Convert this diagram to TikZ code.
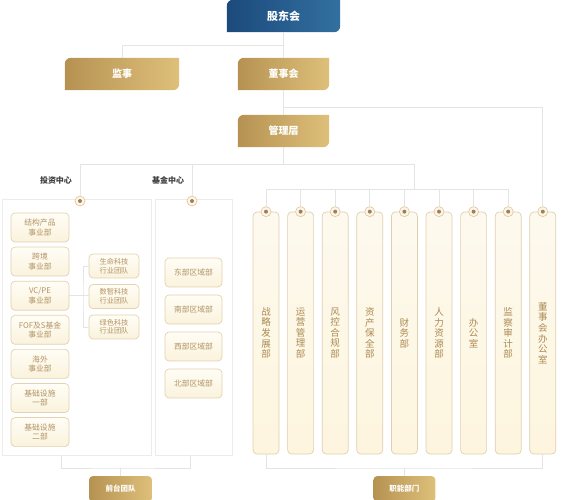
\documentclass[tikz,border=0pt]{standalone}
\usepackage{fontspec}
\setmainfont{Noto Sans CJK SC}
\usetikzlibrary{calc,backgrounds}
\definecolor{linegray}{RGB}{228,228,228}
\definecolor{panelgray}{RGB}{236,236,236}
\definecolor{goldL}{RGB}{182,146,82}
\definecolor{goldR}{RGB}{222,192,122}
\definecolor{blueL}{RGB}{28,74,124}
\definecolor{blueR}{RGB}{50,112,160}
\definecolor{boxline}{RGB}{226,210,176}
\definecolor{boxtop}{RGB}{255,253,246}
\definecolor{boxbot}{RGB}{250,242,220}
\definecolor{boxtext}{RGB}{178,148,100}
\definecolor{deptline}{RGB}{224,208,176}
\definecolor{depttop}{RGB}{253,249,238}
\definecolor{deptbot}{RGB}{253,245,222}
\definecolor{depttext}{RGB}{172,138,84}
\definecolor{hubring}{RGB}{226,202,162}
\definecolor{hubfill}{RGB}{252,246,234}
\definecolor{hubdot}{RGB}{160,128,88}
\definecolor{labelgray}{RGB}{60,60,60}
\tikzstyle{topbox}=[minimum height=32pt,inner sep=0pt,text=white,font=\fontsize{10}{12}\selectfont\bfseries]
\tikzstyle{footbox}=[rounded corners=4pt,left color=goldL,right color=goldR,minimum height=26pt,inner sep=0pt,text=white,font=\fontsize{7.5}{9}\selectfont\bfseries]
\tikzstyle{unitbox}=[draw=boxline,line width=0.7pt,rounded corners=4pt,top color=boxtop,bottom color=boxbot,minimum width=58pt,minimum height=29pt,inner sep=0pt,align=center,text=boxtext,font=\fontsize{7.8}{9.5}\selectfont]
\tikzstyle{teambox}=[unitbox,minimum width=50pt,minimum height=24pt,font=\fontsize{7.2}{8.5}\selectfont]
\tikzstyle{deptbox}=[draw=deptline,line width=0.7pt,rounded corners=4pt,top color=depttop,bottom color=deptbot,minimum width=26pt,minimum height=242pt,inner sep=0pt,align=center,text=depttext,font=\fontsize{9.5}{10.6}\selectfont]
\tikzstyle{panel}=[draw=panelgray,line width=0.6pt,inner sep=0pt]
\tikzstyle{link}=[draw=linegray,line width=0.7pt]
\tikzstyle{hub}=[circle,draw=hubring,fill=hubfill,line width=0.7pt,minimum size=10pt,inner sep=0pt,
  path picture={\fill[hubdot] (path picture bounding box.center) circle[radius=2pt];}]
\tikzstyle{centerlabel}=[text=labelgray,font=\fontsize{8}{9}\selectfont\bfseries]
% box with rounded top-left and bottom-right corners
\newcommand{\cutbox}[3]{%
  \shade[left color=#2,right color=#3] (#1.south west) -- ($(#1.north west)+(0,6)$)
    arc[start angle=180,end angle=270,radius=6] -- (#1.north east)
    -- ($(#1.south east)+(0,-6)$) arc[start angle=0,end angle=90,radius=6] -- cycle;}

\begin{document}
\begin{tikzpicture}[x=1pt,y=-1pt]
    \useasboundingbox (0,0) rectangle (566,500);

    % top of the chart
    \node[topbox,minimum width=113pt,font=\fontsize{11}{13}\selectfont\bfseries] (gd) at (283.5,16) {股东会};
    \node[topbox,minimum width=114pt] (js) at (122,74) {监事};
    \node[topbox,minimum width=91pt] (dsh) at (283.5,74) {董事会};
    \node[topbox,minimum width=91pt] (glc) at (283.5,131) {管理层};
    \begin{scope}[on background layer]
        \cutbox{gd}{blueL}{blueR}
        \cutbox{js}{goldL}{goldR}
        \cutbox{dsh}{goldL}{goldR}
        \cutbox{glc}{goldL}{goldR}
    \end{scope}

    \coordinate (j1) at (283.5,45);
    \coordinate (j2) at (283.5,107);
    \coordinate (j4) at (414,164);
    \coordinate (j5) at (414,189);

    % front panels
    \node[panel,minimum width=149pt,minimum height=256pt] (ptz) at (76.5,327) {};
    \node[panel,minimum width=77pt,minimum height=256pt] (pjj) at (193.5,327) {};
    \node[centerlabel] (ltz) at (56,180) {投资中心};
    \node[centerlabel] (ljj) at (168,180) {基金中心};
    \node[hub] (htz) at (80,201) {};
    \node[hub] (hjj) at (192,201) {};

    \foreach \y/\name/\txt in {227.5/u1/{结构产品\\事业部}, 261.6/u2/{跨境\\事业部}, 295.7/u3/{VC/PE\\事业部},
        329.8/u4/{FOF及S基金\\事业部}, 363.9/u5/{海外\\事业部}, 398/u6/{基础设施\\一部}, 432.1/u7/{基础设施\\二部}}
        \node[unitbox] (\name) at (40,\y) {\txt};

    \foreach \y/\name/\txt in {266/t1/{生命科技\\行业团队}, 296.5/t2/{数智科技\\行业团队}, 327/t3/{绿色科技\\行业团队}}
        \node[teambox] (\name) at (114,\y) {\txt};

    \foreach \y/\name/\txt in {272.5/r1/东部区域部, 309.5/r2/南部区域部, 346.5/r3/西部区域部, 383.5/r4/北部区域部}
        \node[unitbox,minimum width=57pt] (\name) at (193.5,\y) {\txt};

    % functional departments
    \foreach \i/\txt in {0/{战\\略\\发\\展\\部}, 1/{运\\营\\管\\理\\部}, 2/{风\\控\\合\\规\\部},
        3/{资\\产\\保\\全\\部}, 4/{财\\务\\部}, 5/{人\\力\\资\\源\\部}, 6/{办\\公\\室},
        7/{监\\察\\审\\计\\部}, 8/{董\\事\\会\\办\\公\\室}}
    {
        \node[deptbox] (col\i) at ({266+34.6*\i},333) {\txt};
        \node[hub] (hub\i) at (col\i.north) {};
    }

    \node[footbox,minimum width=63pt] (qt) at (120.5,489) {前台团队};
    \node[footbox,minimum width=62pt] (zn) at (404.4,489) {职能部门};

    % connectors
    \draw[link] (gd.south) -- (dsh.north);
    \draw[link] (js.north) |- (j1);
    \draw[link] (dsh.south) -- (glc.north);
    \draw[link] (hub8.north) |- (j2);
    \draw[link] (glc.south) -- (glc.south |- j4);
    \draw[link] (htz.north) |- (j4) -- (j5);
    \draw[link] (hjj.north) -- (hjj.north |- j4);
    \foreach \i in {0,...,7}
        \draw[link] (hub\i.north) |- (j5);

    \coordinate (tj) at (83,296);
    \draw[link] (u3.east) -- (u3.east -| t2.west);
    \draw[link] (t1.west) -| (tj) |- (t3.west);

    \coordinate (qa) at (61,455);
    \coordinate (qb) at (190,455);
    \coordinate (qj) at (120.5,468);
    \draw[link] (qa) |- (qj) -| (qb);
    \draw[link] (qj) -- (qt.north);

    \coordinate (zj) at (404.4,468);
    \draw[link] (col0.south) |- (zj) -| (col8.south);
    \draw[link] (zj) -- (zn.north);

\end{tikzpicture}
\end{document}
